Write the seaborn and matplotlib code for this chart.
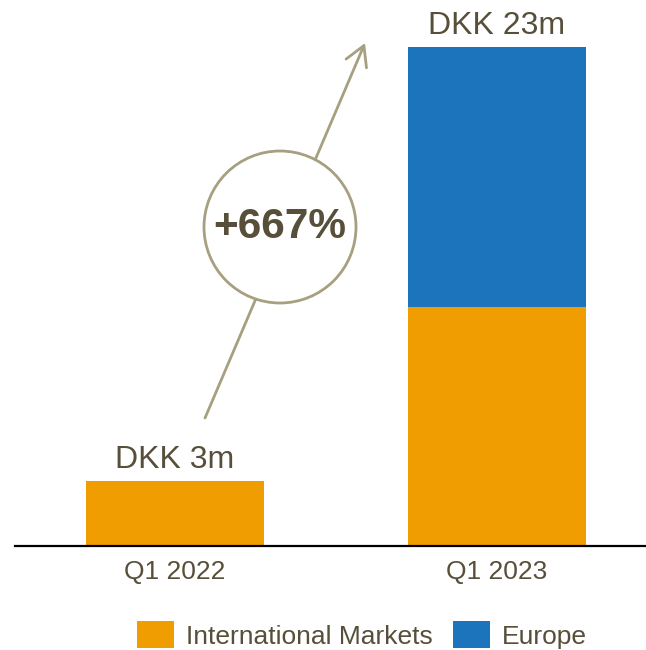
import matplotlib
matplotlib.use("Agg")
import matplotlib.pyplot as plt
from matplotlib.patches import Patch, Circle
import seaborn as sns

# Revenue by region, DKK million
quarters = ["Q1 2022", "Q1 2023"]
international = [3, 11]
europe = [0, 12]
growth_label = "+667%"
series_names = ["International Markets", "Europe"]

ORANGE = "#EF9D00"
BLUE = "#1C75BC"
TEXT = "#574F3A"
ACCENT = "#A7A080"

sns.set_theme(style="white")
plt.rcParams["font.family"] = ["Liberation Sans", "DejaVu Sans"]

totals = [a + b for a, b in zip(international, europe)]

fig = plt.figure(figsize=(6.46, 6.5), dpi=100)
ax = fig.add_axes([15 / 646, 0.16, 631 / 646, 0.84])

# Stacked bars: full total in Europe colour, International Markets drawn over it
sns.barplot(x=quarters, y=totals, color=BLUE, saturation=1, width=0.553,
            linewidth=0, ax=ax)
sns.barplot(x=quarters, y=international, color=ORANGE, saturation=1, width=0.553,
            linewidth=0, ax=ax)

for i, t in enumerate(totals):
    ax.annotate(f"DKK {t}m", xy=(i, t), xytext=(0, 9), textcoords="offset points",
                ha="center", va="baseline", fontsize=23, color=TEXT)

ax.set_xlim(-0.497, 1.463)
ax.set_ylim(0, 25.16)
ax.set_yticks([])
ax.set_ylabel("")
for s in ["left", "right", "top"]:
    ax.spines[s].set_visible(False)
ax.spines["bottom"].set_color("black")
ax.spines["bottom"].set_linewidth(1.6)
ax.tick_params(axis="x", length=0, pad=10, labelsize=19, labelcolor=TEXT)

# Growth arrow with circled percentage
ax.annotate("", xy=(365, 607), xytext=(205, 232), xycoords="figure pixels",
            textcoords="figure pixels",
            arrowprops=dict(arrowstyle="->,head_length=0.7,head_width=0.4",
                            color=ACCENT, lw=2.0, mutation_scale=20,
                            shrinkA=0, shrinkB=0),
            annotation_clip=False, zorder=5)
circ = Circle((2.80, 4.23), 0.76, transform=fig.dpi_scale_trans,
              facecolor="white", edgecolor=ACCENT, lw=2.0, zorder=6)
fig.patches.append(circ)
fig.text(2.80 / 6.46, 4.23 / 6.5, growth_label, ha="center", va="center",
         fontsize=30.5, fontweight="bold", color=TEXT, zorder=7)

handles = [Patch(facecolor=ORANGE, edgecolor="none"), Patch(facecolor=BLUE, edgecolor="none")]
leg = fig.legend(handles, series_names, loc="center", bbox_to_anchor=(362 / 646, 15 / 650),
                 ncol=2, frameon=False, fontsize=19, handlelength=1.4, handleheight=1.15,
                 handletextpad=0.45, columnspacing=0.8, borderaxespad=0)
for t in leg.get_texts():
    t.set_color(TEXT)

fig.savefig("out.png", dpi=100)
